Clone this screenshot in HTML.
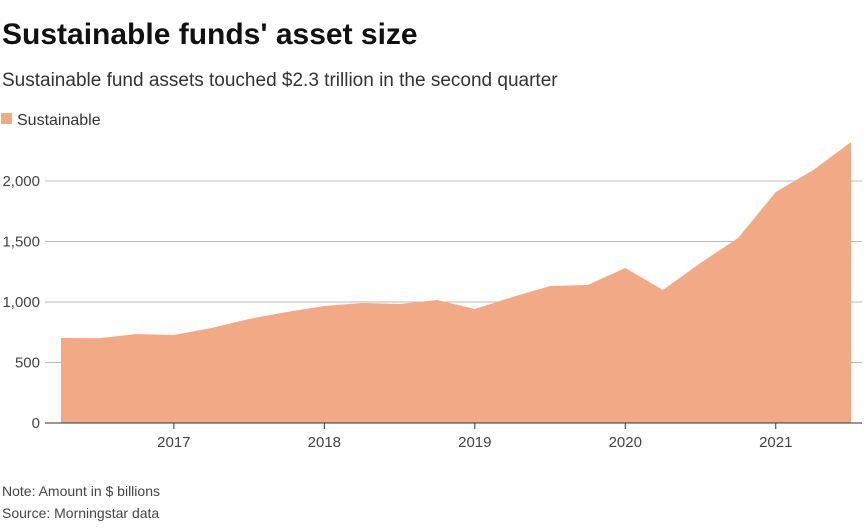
<!DOCTYPE html>
<html><head><meta charset="utf-8"><style>
body{margin:0;background:#fff;font-family:"Liberation Sans",sans-serif;}
</style></head><body>
<svg width="867" height="525" xmlns="http://www.w3.org/2000/svg" font-family="Liberation Sans, sans-serif">
<text x="2" y="44" font-size="30" font-weight="bold" fill="#111">Sustainable funds' asset size</text>
<text x="2" y="86" font-size="19" fill="#333">Sustainable fund assets touched $2.3 trillion in the second quarter</text>
<rect x="1" y="113" width="11" height="11" fill="#f2a985"/>
<text x="17" y="125" font-size="16" fill="#333">Sustainable</text>
<g id="grid"></g>
<path id="area" fill="#f2a985"/>
<line x1="45" x2="862" y1="423" y2="423" stroke="#333" stroke-width="1"/>
<g id="xt"></g>
<text x="2" y="496" font-size="14" fill="#444">Note: Amount in $ billions</text>
<text x="2" y="518" font-size="14" fill="#444">Source: Morningstar data</text>
</svg>
<script>
const values=[702,700,735,727,785,860,917,967,992,983,1017,942,1041,1132,1140,1281,1099,1322,1529,1909,2091,2322];
const yTicks=[0,500,1000,1500,2000];
const yTickLabels=["0","500","1,000","1,500","2,000"];
const xLabels=["2017","2018","2019","2020","2021"];
const xLabelIdx=[3,7,11,15,19];
const ns="http://www.w3.org/2000/svg";
const x=i=>61+i*(851-61)/(values.length-1);
const y=v=>423-v*(423-181)/2000;
const grid=document.getElementById('grid');
yTicks.forEach((t,k)=>{
 if(t>0){const l=document.createElementNS(ns,'line');
 
 
 l.setAttribute('x1',45);l.setAttribute('x2',862);l.setAttribute('y1',y(t));l.setAttribute('y2',y(t));
 l.setAttribute('stroke','#bbb');grid.appendChild(l);}
 const tx=document.createElementNS(ns,'text');
 
 
 tx.setAttribute('x',40);tx.setAttribute('y',y(t)+5);tx.setAttribute('text-anchor','end');
 tx.setAttribute('font-size','15');tx.setAttribute('fill','#444');tx.textContent=yTickLabels[k];grid.appendChild(tx);
});
let d='M'+x(0)+','+y(0);
values.forEach((v,i)=>{d+=' L'+x(i)+','+y(v);});
d+=' L'+x(values.length-1)+','+y(0)+' Z';
document.getElementById('area').setAttribute('d',d);
const xt=document.getElementById('xt');
xLabels.forEach((lab,k)=>{
 const xx=x(xLabelIdx[k]);
 const l=document.createElementNS(ns,'line');
 
 
 l.setAttribute('x1',xx);l.setAttribute('x2',xx);l.setAttribute('y1',423);l.setAttribute('y2',429);l.setAttribute('stroke','#333');xt.appendChild(l);
 const t=document.createElementNS(ns,'text');
 
 
 t.setAttribute('x',xx);t.setAttribute('y',447);t.setAttribute('text-anchor','middle');
 t.setAttribute('font-size','15');t.setAttribute('fill','#444');t.textContent=lab;xt.appendChild(t);
});
</script>
</body></html>
